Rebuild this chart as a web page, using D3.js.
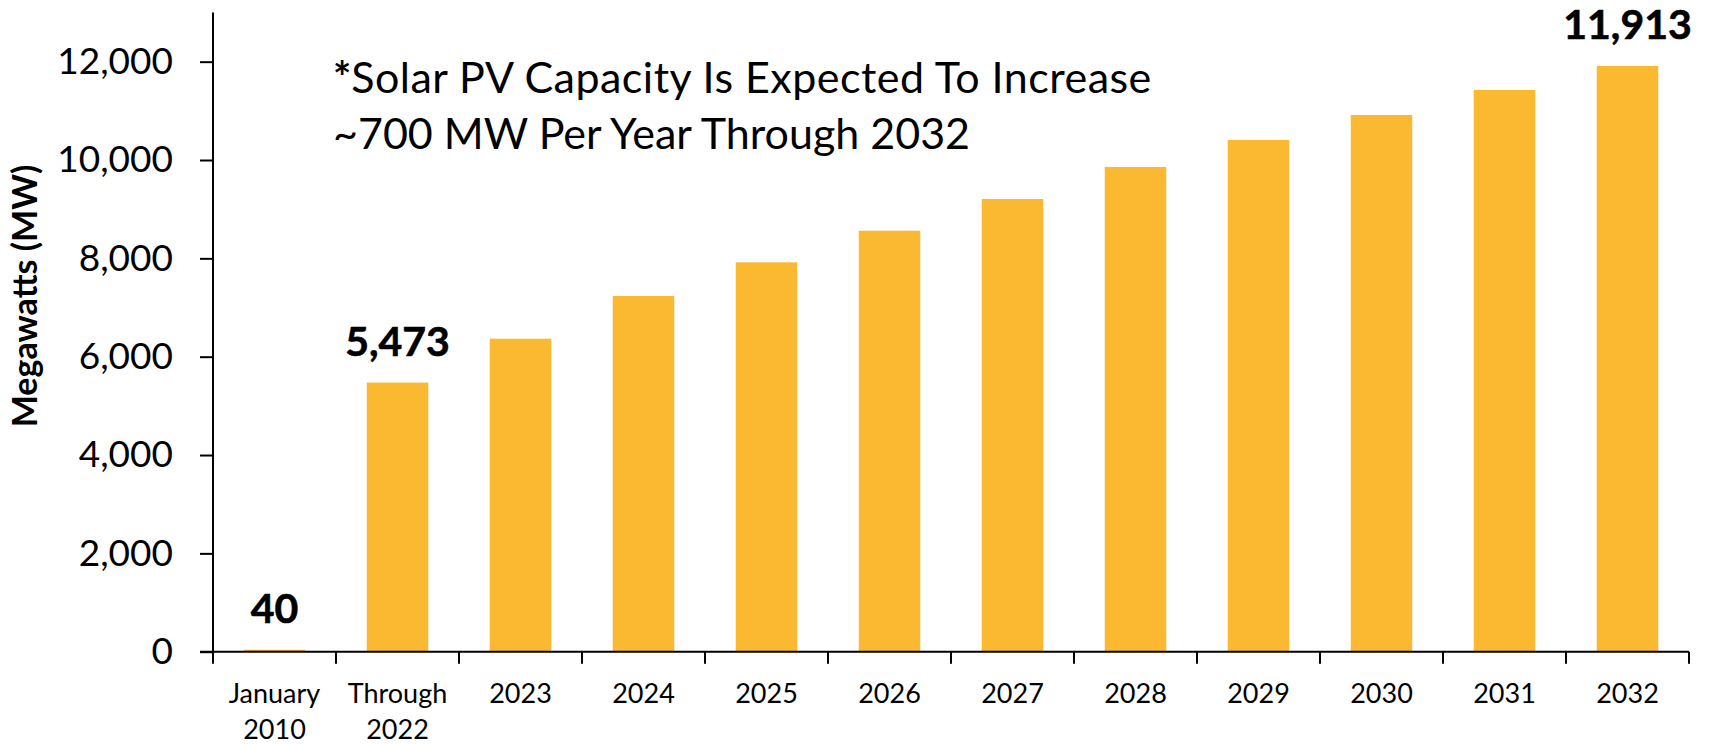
<!DOCTYPE html>
<html>
<head>
<meta charset="utf-8">
<script src="https://cdn.jsdelivr.net/npm/d3@7"></script>
<style>
  html, body { margin: 0; padding: 0; background: #fff; }
  svg { display: block; font-family: Lato, "Open Sans", sans-serif; }
</style>
</head>
<body>
<svg id="chart" width="1711" height="744"></svg>
<script>
// ---- data ----
const categories = [["January", "2010"], ["Through", "2022"], ["2023"], ["2024"], ["2025"], ["2026"], ["2027"], ["2028"], ["2029"], ["2030"], ["2031"], ["2032"]];
const values = [40, 5473, 6366, 7234, 7919, 8562, 9207, 9858, 10407, 10915, 11424, 11913];
const labeledIndex = [0, 1, 11];
const yTicks = [0, 2000, 4000, 6000, 8000, 10000, 12000];
const yMax = 13000;
const yTitle = "Megawatts (MW)";
const noteLines = [["*", "Solar PV Capacity Is Expected To Increase"], ["", "~700 MW Per Year Through 2032"]];

// ---- layout ----
const svg = d3.select("#chart");
const plotLeft = 213, plotRight = 1689, plotTop = 12.5, plotBottom = 651.7;
const barColor = "#FBB931";

const keys = categories.map((c, i) => i);
const x = d3.scaleBand().domain(keys).range([plotLeft, plotRight]).paddingInner(0.5).paddingOuter(0.25);
const y = d3.scaleLinear().domain([0, yMax]).range([plotBottom, plotTop]);

// bars
svg.append("g").selectAll("rect").data(values).join("rect")
  .attr("x", (d, i) => x(i))
  .attr("width", x.bandwidth())
  .attr("y", d => y(d))
  .attr("height", d => y(0) - y(d))
  .attr("fill", barColor);

// y axis
const yAxis = d3.axisLeft(y).tickValues(yTicks).tickSize(13).tickPadding(27)
  .tickFormat(d3.format(","));
const gy = svg.append("g").attr("transform", `translate(${plotLeft},0)`).call(yAxis);
gy.select(".domain").attr("stroke", "#000").attr("stroke-width", 2).attr("d", `M0,${plotTop}V${plotBottom}`);
gy.selectAll(".tick line").attr("stroke", "#000").attr("stroke-width", 2);
gy.selectAll(".tick text").attr("font-size", 37).attr("fill", "#000").attr("font-family", "Lato");

// x axis: baseline and boundary ticks
const step = x.step();
const boundaries = d3.range(categories.length + 1).map(i => x(0) - (step - x.bandwidth()) / 2 + i * step);
const gx = svg.append("g");
gx.append("line").attr("x1", plotLeft - 13).attr("x2", plotRight).attr("y1", plotBottom).attr("y2", plotBottom)
  .attr("stroke", "#000").attr("stroke-width", 2);
gx.selectAll("line.tk").data(boundaries).join("line").attr("class", "tk")
  .attr("x1", d => d).attr("x2", d => d).attr("y1", plotBottom).attr("y2", plotBottom + 12)
  .attr("stroke", "#000").attr("stroke-width", 2);

// x labels
const xl = gx.selectAll("text.xl").data(categories).join("text").attr("class", "xl")
  .attr("text-anchor", "middle").attr("font-size", 27).attr("fill", "#000")
  .attr("transform", (d, i) => `translate(${x(i) + x.bandwidth() / 2},703)`);
xl.selectAll("tspan").data(d => d).join("tspan")
  .attr("x", 0).attr("dy", (d, j) => j === 0 ? 0 : 36).text(d => d);

// data labels
svg.append("g").selectAll("text").data(labeledIndex).join("text")
  .attr("x", i => x(i) + x.bandwidth() / 2)
  .attr("y", i => y(values[i]) - 27)
  .attr("text-anchor", "middle").attr("font-size", 41).attr("font-weight", 700).attr("fill", "#000")
  .attr("stroke", "#000").attr("stroke-width", 0.6)
  .text(i => d3.format(",")(values[i]));

// y title
svg.append("text").attr("transform", "translate(37,296) rotate(-90)")
  .attr("text-anchor", "middle").attr("font-size", 34).attr("font-weight", 700).attr("fill", "#000")
  .text(yTitle);

// note
const note = svg.append("g").selectAll("text").data(noteLines).join("text")
  .attr("x", 333).attr("y", (d, i) => 93 + i * 56)
  .attr("font-size", 43).attr("fill", "#000");
note.append("tspan").attr("font-weight", 700).text(d => d[0]);
note.append("tspan").attr("textLength", (d, i) => i === 0 ? 800 : null).text(d => d[1]);
</script>
</body>
</html>
